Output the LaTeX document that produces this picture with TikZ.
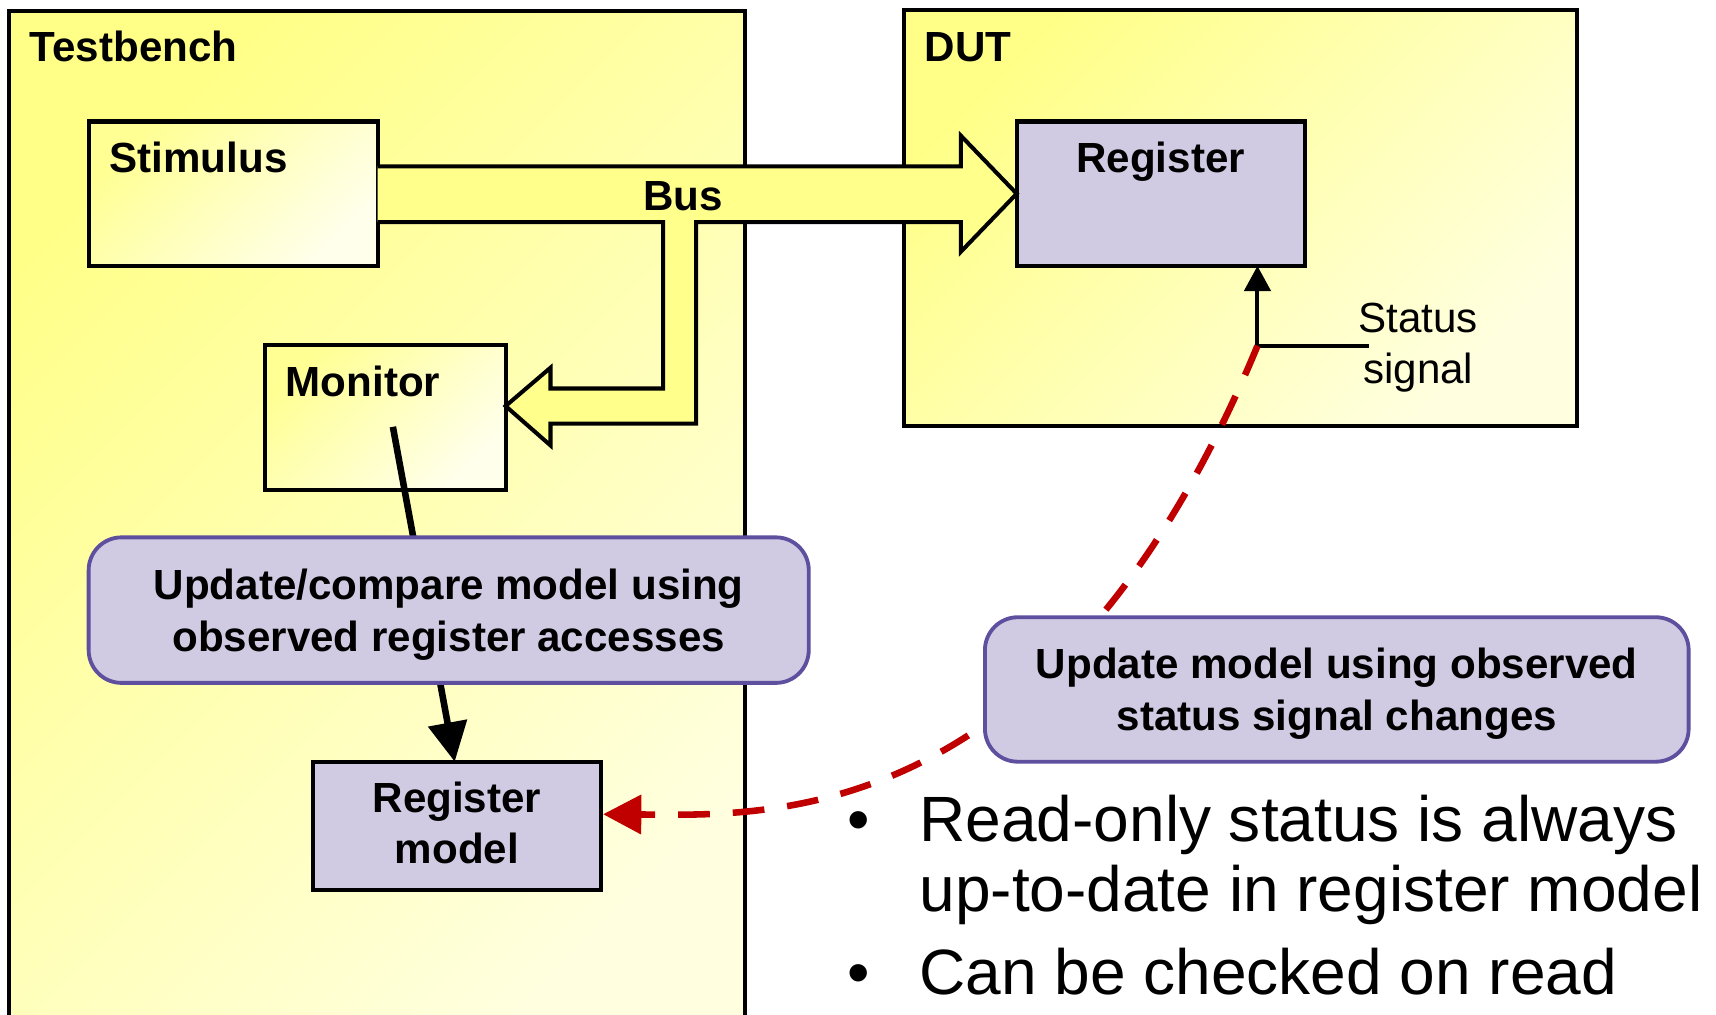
\documentclass[tikz,border=0pt]{standalone}
\usepackage{fontspec}
\setmainfont{Liberation Sans}
\usetikzlibrary{arrows.meta,calc}

\definecolor{ylwDeep}{HTML}{FFFF88}
\definecolor{ylwPale}{HTML}{FFFFE0}
\definecolor{busFill}{HTML}{FFFF8C}
\definecolor{regFill}{HTML}{D0CBE3}
\definecolor{calloutEdge}{HTML}{5F4F9F}
\definecolor{sigRed}{HTML}{C00000}

\begin{document}
\begin{tikzpicture}[x=1pt,y=-1pt,
  panel/.style={draw=black, line width=3.7pt, top color=ylwDeep, bottom color=ylwPale,
    shading angle=45, inner sep=0pt, outer sep=0pt, anchor=north west},
  softbox/.style={draw=black, line width=3.7pt, top color=ylwDeep!90!white, bottom color=ylwPale!60!white,
    shading angle=45, inner sep=0pt, outer sep=0pt, anchor=north west},
  regbox/.style={draw=black, line width=3.7pt, fill=regFill, inner sep=0pt, outer sep=0pt, anchor=north west},
  callout/.style={draw=calloutEdge, line width=3.5pt, fill=regFill, rounded corners=30pt,
    inner sep=0pt, outer sep=0pt, anchor=north west},
  lbl/.style={inner sep=0pt, font=\fontsize{38.5}{46}\selectfont\bfseries, anchor=base west},
  lblc/.style={lbl, anchor=base},
  plain/.style={inner sep=0pt, font=\fontsize{38.5}{46}\selectfont, anchor=base west},
  bullettext/.style={inner sep=0pt, font=\fontsize{58.5}{64}\selectfont, anchor=base west},
  busarrow/.style={draw=black, line width=3.7pt, fill=busFill, line join=miter},
  blackarrow/.style={draw=black, line width=6pt, -{Triangle[length=36pt,width=35pt]}},
  sigline/.style={draw=black, line width=3.7pt},
  reddash/.style={draw=sigRed, line width=6pt, dash pattern=on 29pt off 21pt,
    -{Triangle[length=35pt,width=35pt]}}
]
\useasboundingbox (0,0) rectangle (1568,927);
\fill[white] (0,0) rectangle (1568,927);
\clip (0,0) rectangle (1568,927);

% enclosing blocks
\node[panel, minimum width=673pt, minimum height=960pt] (tb) at (8,10) {};
\node[panel, minimum width=615pt, minimum height=380pt] (dut) at (826,9) {};

% testbench components
\node[softbox, minimum width=264pt, minimum height=132pt] (stim) at (81,111) {};
\node[softbox, minimum width=220pt, minimum height=132pt] (mon) at (242,315.5) {};

% register and its model
\node[regbox, minimum width=263pt, minimum height=132pt] (reg) at (929,111) {};
\node[regbox, minimum width=263pt, minimum height=117pt] (regm) at (286,696) {};

% bus: wide arrow to the register with a branch to the monitor
\draw[busarrow] (stim.east |- 0,152) -- (878,152) -- (878,124) -- (reg.west) -- (878,230)
  -- (878,203) -- (636,203) -- (636,387) -- (503,387) -- (503,407) -- (mon.east |- 0,371)
  -- (503,336) -- (503,355) -- (606,355) -- (606,203) -- (stim.east |- 0,203);

% monitor updates the register model
\coordinate (monSrc) at (359,390);
\draw[blackarrow] (monSrc) -- ($(regm.north)+(-2,0)$);

% status signal into the register
\coordinate (junc) at (1149,316);
\coordinate (sigEnd) at (1251,316);
\draw[sigline] (sigEnd) -- (junc);
\draw[sigline, -{Triangle[length=23pt,width=24pt]}] (junc) -- (junc |- reg.south);

% status changes mirrored into the model
\draw[reddash] (junc) .. controls (965,760) and (700,745) .. ($(regm.east)+(2,-10.5)$);

% annotations
\node[callout, minimum width=658pt, minimum height=133pt] (c1) at (81,491) {};
\node[callout, minimum width=643pt, minimum height=132pt] (c2) at (900,564) {};

% labels
\node[lbl] (tbT) at (27,56.5) {Testbench};
\node[lbl] (dutT) at (845,56) {DUT};
\node[lbl] (stimT) at (100,157.5) {Stimulus};
\node[lbl] (monT) at (261,362.5) {Monitor};
\node[lblc] (busT) at (624,192) {Bus};
\node[lblc] (regT) at (1060.5,158) {Register};
\node[lblc] (regmA) at (417.5,742.6) {Register};
\node[lblc] (regmB) at (417.5,788.7) {model};
\node[lblc] (c1A) at (410,548) {Update/compare model using};
\node[lblc] (c1B) at (410,595.5) {observed register accesses};
\node[lblc] (c2A) at (1221.5,620.4) {Update model using observed};
\node[lblc] (c2B) at (1221.5,667.6) {status signal changes};
\node[plain] (stA) at (1241,303.7) {Status};
\node[plain] (stB) at (1245.5,350) {signal};

% notes
\node[bullettext] (dotA) at (774,769) {•};
\node[bullettext] (noteA1) at (840,769) {Read-only status is always};
\node[bullettext] (noteA2) at (840,833) {up-to-date in register model};
\node[bullettext] (dotB) at (774,909) {•};
\node[bullettext] (noteB) at (840,909) {Can be checked on read};
\end{tikzpicture}
\end{document}
